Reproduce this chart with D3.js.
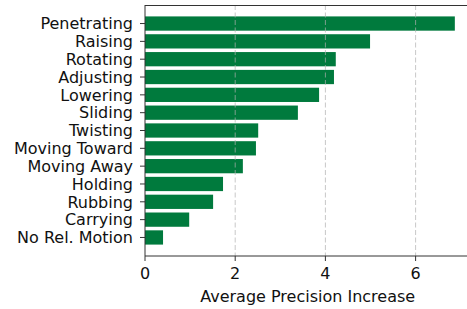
<!DOCTYPE html>
<html><head><meta charset="utf-8">
<script src="https://cdn.jsdelivr.net/npm/d3@7"></script>
<style>body{margin:0;background:#fff}svg{display:block}</style>
</head><body>
<svg id="c" width="467" height="309"></svg>
<script>
const categories = ["Penetrating","Raising","Rotating","Adjusting","Lowering","Sliding","Twisting","Moving Toward","Moving Away","Holding","Rubbing","Carrying","No Rel. Motion"];
const values = [6.87, 4.99, 4.23, 4.19, 3.86, 3.39, 2.51, 2.46, 2.17, 1.73, 1.51, 0.98, 0.40];
const xTicks = [0, 2, 4, 6];
const xLabel = "Average Precision Increase";

const svg = d3.select("#c");
const mLeft = 145, mTop = 5, mBottom = 256;
const xMax = d3.max(values) * 1.05;
const x = d3.scaleLinear().domain([0, xMax]).range([mLeft, mLeft + 45.1 * xMax]);
const n = categories.length;
const y = d3.scaleLinear().domain([-1.04, n - 1 + 1.04]).range([mTop, mBottom]);
const font = "DejaVu Sans, sans-serif";
const fs = 16;

// bars
svg.append("g").selectAll("rect").data(categories).join("rect")
  .attr("x", x(0))
  .attr("y", (d, i) => y(i - 0.4))
  .attr("width", (d, i) => x(values[i]) - x(0))
  .attr("height", y(0.4) - y(-0.4))
  .attr("fill", "#007a3d");

// grid
svg.append("g").selectAll("line").data(xTicks.filter(t => t > 0)).join("line")
  .attr("x1", d => x(d)).attr("x2", d => x(d))
  .attr("y1", mTop).attr("y2", mBottom)
  .attr("stroke", "#b0b0b0").attr("stroke-opacity", 0.7)
  .attr("stroke-width", 1).attr("stroke-dasharray", "5,2.5");

// spines
const xr = x.range()[1];
svg.append("line").attr("x1", mLeft).attr("x2", xr).attr("y1", mTop + 0.5).attr("y2", mTop + 0.5).attr("stroke", "#333").attr("stroke-width", 1);
svg.append("line").attr("x1", mLeft).attr("x2", xr).attr("y1", mBottom).attr("y2", mBottom).attr("stroke", "#333").attr("stroke-width", 1);
svg.append("line").attr("x1", mLeft).attr("x2", mLeft).attr("y1", mTop).attr("y2", mBottom).attr("stroke", "#333").attr("stroke-width", 1);

// y ticks
const yt = svg.append("g");
categories.forEach((c, i) => {
  yt.append("line").attr("x1", mLeft - 5).attr("x2", mLeft).attr("y1", y(i)).attr("y2", y(i)).attr("stroke", "#333").attr("stroke-width", 1);
  yt.append("text").attr("x", mLeft - 12).attr("y", y(i)).attr("dy", "0.36em")
    .attr("text-anchor", "end").attr("font-family", font).attr("font-size", fs).attr("fill", "#111").text(c);
});

// x ticks
const xt = svg.append("g");
xTicks.forEach(t => {
  xt.append("line").attr("x1", x(t)).attr("x2", x(t)).attr("y1", mBottom).attr("y2", mBottom + 5).attr("stroke", "#333").attr("stroke-width", 1);
  xt.append("text").attr("x", x(t)).attr("y", 279.3).attr("text-anchor", "middle")
    .attr("font-family", font).attr("font-size", fs).attr("fill", "#111").text(d3.format("d")(t));
});

svg.append("text").attr("x", (mLeft + xr) / 2).attr("y", 301.5).attr("text-anchor", "middle")
  .attr("font-family", font).attr("font-size", fs).attr("fill", "#111").text(xLabel);
</script>
</body></html>
